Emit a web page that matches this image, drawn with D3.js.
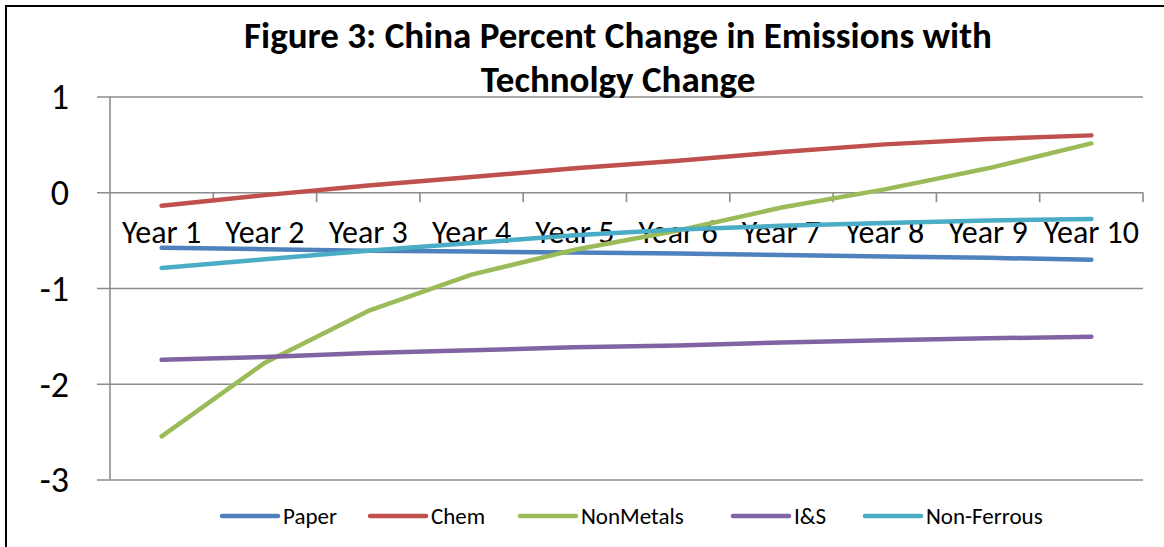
<!DOCTYPE html>
<html>
<head>
<meta charset="utf-8">
<script src="https://cdn.jsdelivr.net/npm/d3@7"></script>
<style>
  html, body { margin: 0; padding: 0; background: #fff; }
  svg { display: block; }
  text { font-family: Carlito, Calibri, Lato, "Open Sans", sans-serif; fill: #000; }
</style>
</head>
<body>
<svg id="chart" width="1164" height="547"></svg>
<script>
// Category labels and y ticks
const categories = ["Year 1", "Year 2", "Year 3", "Year 4", "Year 5",
                    "Year 6", "Year 7", "Year 8", "Year 9", "Year 10"];
const yTicks = [1, 0, -1, -2, -3];

// Percent change in emissions per sector
const paper      = [-0.58, -0.595, -0.61, -0.62, -0.63, -0.64, -0.655, -0.67, -0.685, -0.705];
const chem       = [-0.14, -0.03, 0.07, 0.16, 0.25, 0.33, 0.42, 0.50, 0.556, 0.594];
const nonMetals  = [-2.55, -1.78, -1.24, -0.86, -0.60, -0.40, -0.16, 0.03, 0.25, 0.51];
const iAndS      = [-1.75, -1.72, -1.68, -1.65, -1.62, -1.60, -1.57, -1.545, -1.525, -1.51];
const nonFerrous = [-0.79, -0.70, -0.61, -0.53, -0.45, -0.39, -0.35, -0.32, -0.295, -0.28];

const seriesNames  = ["Paper", "Chem", "NonMetals", "I&S", "Non-Ferrous"];
const seriesValues = [paper, chem, nonMetals, iAndS, nonFerrous];
const seriesColors = ["#4F81BD", "#C0504D", "#9BBB59", "#8064A2", "#4BACC6"];

const titleLines = ["Figure 3: China Percent Change in Emissions with", "Technolgy Change"];

const svg = d3.select("#chart");
const gridColor = "#8c8c8c";

// outer frame (top and left edges)
svg.append("path")
  .attr("d", "M6,547 L6,6 L1164,6")
  .attr("fill", "none").attr("stroke", "#000").attr("stroke-width", 2);

const plot = { left: 110, right: 1143, top: 96.5, bottom: 479.5 };

const x = d3.scaleBand().domain(categories).range([plot.left, plot.right]);
const y = d3.scaleLinear().domain([-3, 1]).range([plot.bottom, plot.top]);
const cx = c => x(c) + x.bandwidth() / 2;

// horizontal gridlines with outside tick marks
const gy = svg.append("g").attr("transform", `translate(${plot.right},0)`);
gy.call(d3.axisLeft(y).tickValues(yTicks).tickSize(plot.right - plot.left + 13).tickFormat(""));
gy.select(".domain").remove();
gy.selectAll(".tick line").attr("stroke", gridColor).attr("stroke-width", 1.6);

// vertical value axis line
svg.append("line")
  .attr("x1", plot.left).attr("x2", plot.left)
  .attr("y1", plot.top).attr("y2", plot.bottom)
  .attr("stroke", gridColor).attr("stroke-width", 1.6);

// y tick labels
svg.append("g").selectAll("text").data(yTicks).join("text")
  .attr("x", 69).attr("y", d => y(d))
  .attr("dy", "0.36em")
  .attr("text-anchor", "end")
  .attr("font-size", 36)
  .text(d => d);

// tick marks hanging below the zero line at category boundaries
svg.append("g").attr("transform", `translate(0,${y(0)})`)
  .selectAll("line").data(categories.map(c => x(c) + x.bandwidth()))
  .join("line")
  .attr("x1", d => d).attr("x2", d => d)
  .attr("y1", 0).attr("y2", 10)
  .attr("stroke", gridColor).attr("stroke-width", 1.6);

// category labels
svg.append("g").selectAll("text").data(categories).join("text")
  .attr("x", d => cx(d)).attr("y", 243)
  .attr("text-anchor", "middle")
  .attr("font-size", 32)
  .text(d => d);

// title
svg.append("g").selectAll("text").data(titleLines).join("text")
  .attr("x", 618).attr("y", (d, i) => 48 + i * 44)
  .attr("text-anchor", "middle")
  .attr("font-size", 37).attr("font-weight", "bold")
  .text(d => d);

// series lines
const line = d3.line().x((d, i) => cx(categories[i])).y(d => y(d));
svg.append("g").selectAll("path").data(seriesValues).join("path")
  .attr("d", d => line(d))
  .attr("fill", "none")
  .attr("stroke", (d, i) => seriesColors[i])
  .attr("stroke-width", 4.5)
  .attr("stroke-linecap", "round")
  .attr("stroke-linejoin", "round");

// legend
const legendX = [222, 370, 520, 733, 865];
const lg = svg.append("g").selectAll("g").data(seriesNames).join("g")
  .attr("transform", (d, i) => `translate(${legendX[i]},516)`);
lg.append("line")
  .attr("x1", 0).attr("x2", 56).attr("y1", 0).attr("y2", 0)
  .attr("stroke", (d, i) => seriesColors[i])
  .attr("stroke-width", 4.5).attr("stroke-linecap", "round");
lg.append("text")
  .attr("x", 61).attr("y", 0).attr("dy", "0.36em")
  .attr("font-size", 23)
  .text(d => d);
</script>
</body>
</html>
